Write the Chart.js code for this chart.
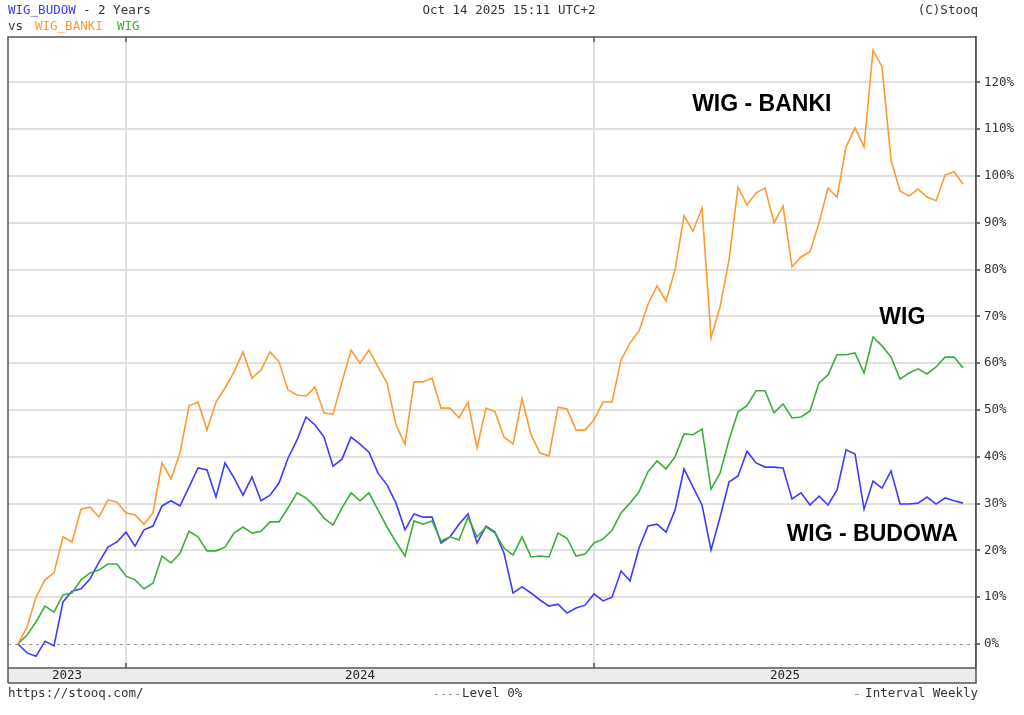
<!DOCTYPE html>
<html>
<head>
<meta charset="utf-8">
<script src="https://cdn.jsdelivr.net/npm/chart.js@4.4.1/dist/chart.umd.min.js"></script>
<style>
  html, body { margin: 0; padding: 0; background: #fff; }
  canvas { display: block; }
</style>
</head>
<body>
<canvas id="chart" width="1024" height="715"></canvas>
<script>
// weekly % change since start
const budowa = [
  0, -1.9, -2.6, 0.6, -0.4, 9.0, 11.3, 11.8, 13.9, 17.5, 20.7, 21.8, 23.9, 20.9, 24.4, 25.2,
  29.5, 30.6, 29.5, 33.5, 37.6, 37.2, 31.4, 38.7, 35.5, 31.8, 35.7, 30.6, 31.8, 34.4, 39.7, 43.6,
  48.5, 46.8, 44.2, 38.0, 39.5, 44.2, 42.7, 41.0, 36.5, 34.0, 30.1, 24.4, 27.8, 27.1, 27.1, 21.6,
  22.9, 25.6, 27.8, 21.6, 25.2, 23.9, 19.4, 10.9, 12.2, 10.9, 9.4, 8.1, 8.5, 6.6, 7.7, 8.3,
  10.7, 9.2, 10.0, 15.6, 13.5, 20.5, 25.2, 25.6, 23.9, 28.6, 37.4, 33.5, 29.7, 20.1, 27.1, 34.6,
  35.9, 41.2, 38.7, 37.8, 37.8, 37.6, 31.0, 32.3, 29.7, 31.6, 29.7, 32.9, 41.5, 40.6, 28.8, 34.8,
  33.3, 37.0, 29.9, 29.9, 30.1, 31.4, 29.9, 31.2, 30.6, 30.1
];
const banki = [
  0, 3.6, 10.0, 13.7, 15.2, 22.9, 21.8, 28.8, 29.3, 27.1, 30.8, 30.3, 28.0, 27.6, 25.6, 28.0,
  38.7, 35.3, 40.8, 50.9, 51.7, 45.7, 51.7, 54.7, 58.1, 62.4, 56.8, 58.5, 62.4, 60.3, 54.3, 53.2,
  53.0, 54.9, 49.4, 49.1, 56.0, 62.8, 60.0, 62.8, 59.2, 55.8, 46.8, 42.7, 56.0, 56.0, 56.8, 50.4,
  50.4, 48.3, 51.7, 41.9, 50.4, 49.6, 44.2, 42.7, 52.4, 44.7, 40.8, 40.2, 50.6, 50.2, 45.7, 45.7,
  47.9, 51.7, 51.7, 60.7, 64.3, 66.9, 72.6, 76.5, 73.3, 79.9, 91.5, 88.2, 93.2, 65.4, 72.0, 82.1,
  97.6, 93.8, 96.4, 97.4, 90.0, 93.6, 80.6, 82.7, 83.8, 90.0, 97.4, 95.5, 106.2, 110.3, 106.2, 126.9,
  123.3, 103.4, 96.8, 95.7, 97.2, 95.5, 94.7, 100.2, 100.9, 98.3
];
const wig = [
  0, 1.9, 4.7, 8.1, 6.8, 10.5, 10.9, 13.7, 15.2, 15.8, 17.1, 17.1, 14.5, 13.7, 11.8, 13.0,
  18.8, 17.3, 19.4, 24.1, 22.9, 19.9, 19.9, 20.7, 23.7, 25.0, 23.7, 24.1, 26.1, 26.1, 29.1, 32.3,
  31.2, 29.3, 26.9, 25.4, 29.1, 32.3, 30.6, 32.3, 28.6, 25.0, 21.8, 18.8, 26.3, 25.6, 26.3, 22.0,
  22.9, 22.2, 27.1, 22.9, 25.0, 23.7, 20.5, 19.0, 22.9, 18.6, 18.8, 18.6, 23.7, 22.6, 18.8, 19.2,
  21.6, 22.4, 24.3, 28.0, 30.1, 32.5, 36.8, 39.1, 37.4, 40.0, 44.9, 44.7, 45.9, 33.1, 36.5, 43.6,
  49.6, 50.9, 54.1, 54.1, 49.4, 51.3, 48.3, 48.5, 49.8, 55.8, 57.5, 61.8, 61.8, 62.2, 57.9, 65.6,
  63.7, 61.3, 56.6, 57.9, 58.8, 57.7, 59.2, 61.3, 61.3, 59.0
];

// week number of each point, and the weeks where a new year begins
const weeks = budowa.map((v, i) => i);
const yearStarts = [12, 64];
const yearLabels = ['2023', '2024', '2025'];
const yTicks = [0, 10, 20, 30, 40, 50, 60, 70, 80, 90, 100, 110, 120];

const colors = {
  budowa: '#3c3cff',
  banki: '#ff9a30',
  wig: '#3cae3c',
  grid: '#e0e0e0',
  frame: '#555555',
  text: '#333333',
  strip: '#ececec'
};

const mono = '"DejaVu Sans Mono", monospace';

function toPoints(values) {
  return values.map((v, i) => ({ x: weeks[i], y: v }));
}

const stooqFrame = {
  id: 'stooqFrame',
  beforeDraw(chart) {
    const { ctx, chartArea: a } = chart;
    ctx.save();
    ctx.fillStyle = '#fff';
    ctx.fillRect(0, 0, chart.width, chart.height);
    ctx.fillStyle = colors.strip;
    ctx.fillRect(a.left, a.bottom, a.right - a.left, 15);
    ctx.restore();
  },
  beforeDatasetsDraw(chart) {
    const { ctx, chartArea: a, scales } = chart;
    ctx.save();
    // year separators
    ctx.strokeStyle = colors.grid;
    ctx.lineWidth = 2;
    yearStarts.forEach(w => {
      const x = Math.round(scales.x.getPixelForValue(w));
      ctx.beginPath();
      ctx.moveTo(x, a.top);
      ctx.lineTo(x, a.bottom);
      ctx.stroke();
    });
    // level 0%
    const y0 = Math.round(scales.y.getPixelForValue(0)) + 0.5;
    ctx.strokeStyle = '#999';
    ctx.lineWidth = 1;
    ctx.setLineDash([3, 4]);
    ctx.beginPath();
    ctx.moveTo(a.left, y0);
    ctx.lineTo(a.right, y0);
    ctx.stroke();
    ctx.restore();
  },
  afterDraw(chart) {
    const { ctx, chartArea: a, scales } = chart;
    const stripBottom = a.bottom + 15;
    ctx.save();

    // frame
    ctx.strokeStyle = colors.frame;
    ctx.lineWidth = 1.5;
    ctx.beginPath();
    ctx.moveTo(a.left, stripBottom);
    ctx.lineTo(a.left, a.top);
    ctx.lineTo(a.right, a.top);
    ctx.lineTo(a.right, stripBottom);
    ctx.lineTo(a.left, stripBottom);
    ctx.moveTo(a.left, a.bottom);
    ctx.lineTo(a.right, a.bottom);
    ctx.stroke();

    // year ticks + labels
    const bounds = [a.left, ...yearStarts.map(w => scales.x.getPixelForValue(w)), a.right];
    ctx.lineWidth = 1.5;
    yearStarts.forEach(w => {
      const x = Math.round(scales.x.getPixelForValue(w));
      ctx.beginPath();
      ctx.moveTo(x, a.bottom);
      ctx.lineTo(x, a.bottom - 5);
      ctx.moveTo(x, a.top);
      ctx.lineTo(x, a.top + 5);
      ctx.stroke();
    });
    ctx.fillStyle = '#222';
    ctx.font = '12.5px ' + mono;
    ctx.textAlign = 'center';
    ctx.textBaseline = 'middle';
    yearLabels.forEach((label, i) => {
      ctx.fillText(label, (bounds[i] + bounds[i + 1]) / 2, a.bottom + 8);
    });

    // header
    ctx.textAlign = 'left';
    ctx.fillStyle = colors.budowa;
    ctx.fillText('WIG_BUDOW', 8, 11);
    ctx.fillStyle = colors.text;
    ctx.fillText('- 2 Years', 83, 11);
    ctx.fillText('vs', 8, 27);
    ctx.fillStyle = colors.banki;
    ctx.fillText('WIG_BANKI', 35, 27);
    ctx.fillStyle = colors.wig;
    ctx.fillText('WIG', 117, 27);
    ctx.fillStyle = colors.text;
    ctx.textAlign = 'center';
    ctx.fillText('Oct 14 2025 15:11 UTC+2', 509, 11);
    ctx.textAlign = 'right';
    ctx.fillText('(C)Stooq', 978, 11);

    // footer
    ctx.textAlign = 'left';
    ctx.fillText('https://stooq.com/', 8, 694);
    ctx.fillText('Level 0%', 462, 694);
    ctx.textAlign = 'right';
    ctx.fillText('Interval Weekly', 978, 694);
    ctx.strokeStyle = '#999';
    ctx.lineWidth = 1;
    ctx.setLineDash([3, 4]);
    ctx.beginPath();
    ctx.moveTo(435, 694.5);
    ctx.lineTo(459, 694.5);
    ctx.stroke();
    ctx.setLineDash([]);
    ctx.beginPath();
    ctx.moveTo(855, 694.5);
    ctx.lineTo(859, 694.5);
    ctx.stroke();

    // series names on the plot
    ctx.fillStyle = '#000';
    ctx.font = 'bold 23px "Liberation Sans", Arial, sans-serif';
    ctx.textAlign = 'left';
    ctx.textBaseline = 'middle';
    [
      { text: 'WIG - BANKI', x: 74.9, y: 115.2 },
      { text: 'WIG', x: 95.7, y: 69.7 },
      { text: 'WIG - BUDOWA', x: 85.4, y: 23.3 }
    ].forEach(l => {
      ctx.fillText(l.text, scales.x.getPixelForValue(l.x), scales.y.getPixelForValue(l.y));
    });
    ctx.restore();
  }
};

const lineStyle = {
  borderWidth: 1.6,
  pointRadius: 0,
  tension: 0,
  fill: false
};

new Chart(document.getElementById('chart'), {
  type: 'line',
  data: {
    datasets: [
      { label: 'WIG_BANKI', data: toPoints(banki), borderColor: colors.banki, ...lineStyle },
      { label: 'WIG', data: toPoints(wig), borderColor: colors.wig, ...lineStyle },
      { label: 'WIG_BUDOW', data: toPoints(budowa), borderColor: colors.budowa, ...lineStyle }
    ]
  },
  options: {
    responsive: false,
    animation: false,
    layout: {
      padding: { left: 8, top: 37, right: 0, bottom: 47 }
    },
    scales: {
      x: {
        type: 'linear',
        display: false,
        min: -1.11,
        max: 106.44
      },
      y: {
        position: 'right',
        min: -5.13,
        max: 129.7,
        afterBuildTicks: (scale) => {
          scale.ticks = yTicks.map(v => ({ value: v }));
        },
        afterFit: (scale) => {
          scale.width = 48;
        },
        border: {
          display: true,
          color: colors.frame,
          width: 1.5
        },
        grid: {
          color: (c) => (c.tick && c.tick.value === 0 ? 'rgba(0,0,0,0)' : colors.grid),
          lineWidth: 2,
          tickColor: '#444',
          tickWidth: 1.5,
          tickLength: 4
        },
        ticks: {
          padding: 4,
          color: colors.text,
          font: { family: mono, size: 12.5 },
          callback: (value) => value + '%'
        }
      }
    },
    plugins: {
      legend: { display: false },
      tooltip: { enabled: false }
    }
  },
  plugins: [stooqFrame]
});
</script>
</body>
</html>
